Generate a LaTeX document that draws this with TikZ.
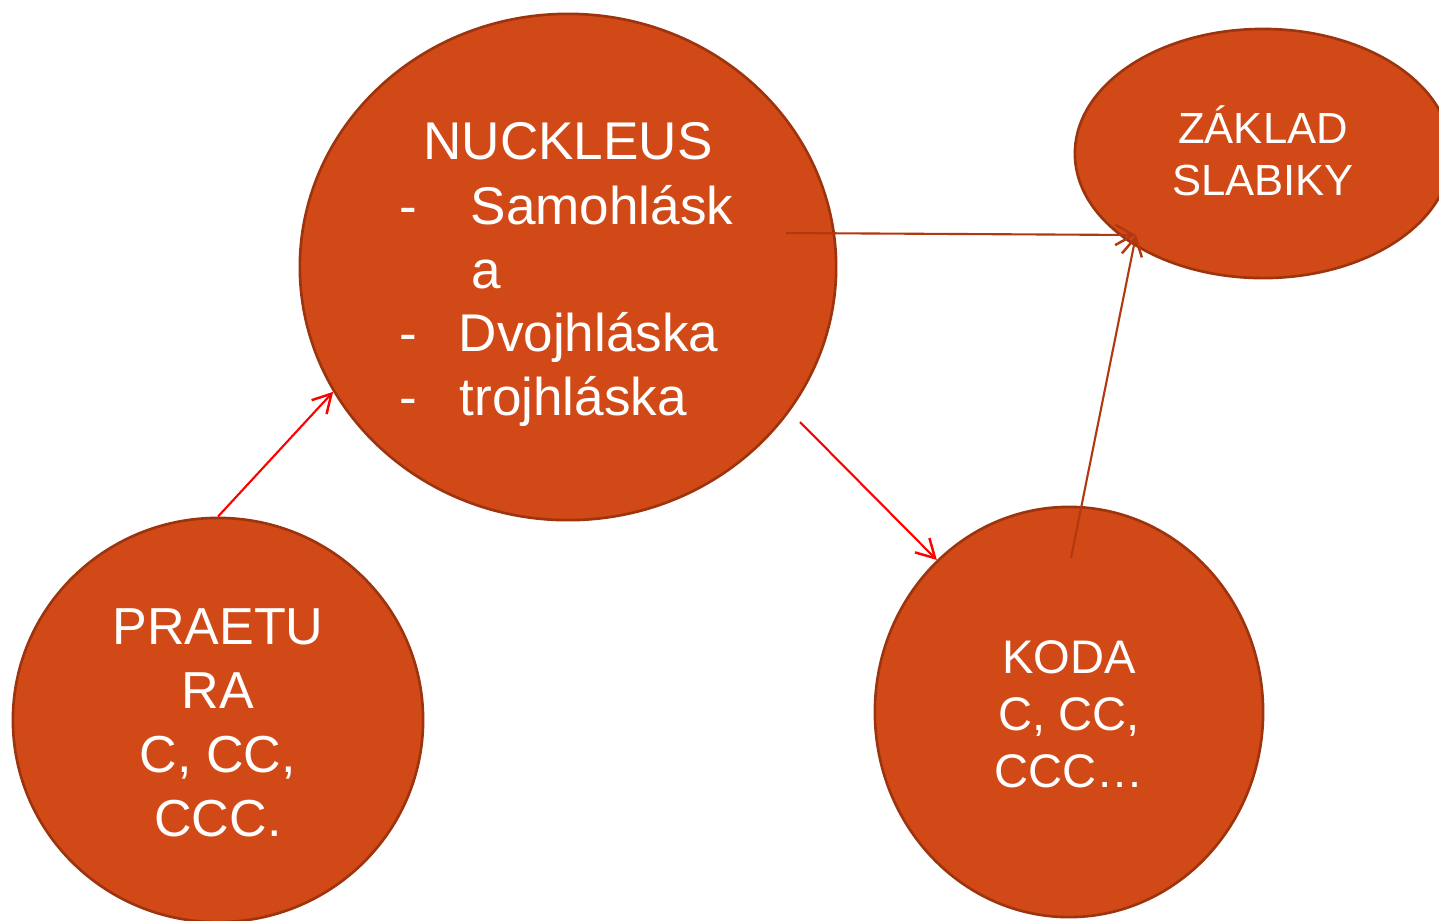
\documentclass[tikz,border=0pt]{standalone}
\usepackage{fontspec}
\setmainfont{Liberation Sans}
\usetikzlibrary{shapes.geometric,arrows.meta}
\definecolor{fillc}{RGB}{209,73,23}
\definecolor{edgec}{RGB}{158,52,14}
\definecolor{arrc}{RGB}{178,56,16}
\begin{document}
\begin{tikzpicture}[x=0.01cm,y=-0.01cm,
  blob/.style={ellipse,draw=edgec,fill=fillc,line width=0.75pt,inner sep=0pt},
  txt/.style={text=white,inner sep=0pt,align=center},
  bigf/.style={font=\fontsize{15.1}{18.2}\selectfont},
  redarr/.style={red,line width=0.6pt,-{Straight Barb[length=5.2pt,width=5.8pt,line width=0.7pt]}},
  darkarr/.style={arrc,line width=0.6pt,-{Straight Barb[length=5.2pt,width=5.8pt,line width=0.7pt]}}]
\fill[white] (0,0) rectangle (1439,920);
\useasboundingbox (0,0) rectangle (1439,920);
% ellipses
\node[blob,minimum width=5.36cm,minimum height=5.06cm] (nuc) at (568,267) {};
\node[blob,minimum width=3.76cm,minimum height=2.49cm] (zak) at (1263,153.5) {};
\node[blob,minimum width=4.10cm,minimum height=4.04cm] (pra) at (218,720) {};
\node[blob,minimum width=3.88cm,minimum height=4.10cm] (koda) at (1069,712) {};
% connectors
\coordinate (r2s) at (800,422);
\coordinate (d1s) at (786,233);
\coordinate (d2s) at (1071,558);
\coordinate (dtip) at (1136,235);
\draw[redarr] (pra.north) -- (nuc.208.5);
\draw[redarr] (r2s) -- (koda.131);
\draw[darkarr] (d1s) -- (dtip);
\draw[darkarr] (d2s) -- (dtip);
% texts
\node[txt,bigf,anchor=base] (t0) at (568,159) {NUCKLEUS};
\node[txt,bigf,anchor=base west] (d1) at (399,224) {-};
\node[txt,bigf,anchor=base west] (t1) at (470,224) {Samohlásk};
\node[txt,bigf,anchor=base west] (t2) at (471,288) {a};
\node[txt,bigf,anchor=base west] (d2) at (399,351) {-};
\node[txt,bigf,anchor=base west] (t3) at (458,351) {Dvojhláska};
\node[txt,bigf,anchor=base west] (d3) at (399,415) {-};
\node[txt,bigf,anchor=base west] (t4) at (459,415) {trojhláska};
\node[txt,font=\fontsize{12.4}{14.65}\selectfont] (zakt) at (1263,151) {ZÁKLAD\\SLABIKY};
\node[txt,font=\fontsize{14.8}{18.2}\selectfont] (prat) at (218,722.5) {PRAETU\\RA\\C, CC,\\CCC.};
\node[txt,font=\fontsize{13.4}{16.2}\selectfont] (kodat) at (1069,714) {KODA\\C, CC,\\CCC…};
\end{tikzpicture}
\end{document}
